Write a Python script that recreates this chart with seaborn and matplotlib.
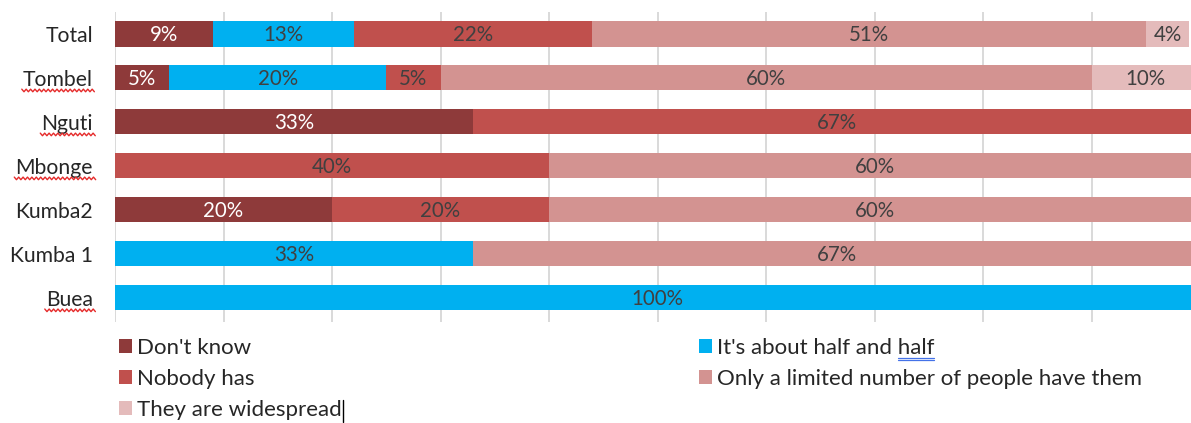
import numpy as np
import pandas as pd
import matplotlib
matplotlib.use("Agg")
import matplotlib.pyplot as plt
from matplotlib.lines import Line2D
from matplotlib.patches import Patch
import seaborn as sns

# Survey answers by site (percent of respondents)
sites = ["Total", "Tombel", "Nguti", "Mbonge", "Kumba2", "Kumba 1", "Buea"]
dont_know = [9, 5, 33, 0, 20, 0, 0]
half_and_half = [13, 20, 0, 0, 0, 33, 100]
nobody_has = [22, 5, 67, 40, 20, 0, 0]
limited_number = [51, 60, 0, 60, 60, 67, 0]
widespread = [4, 10, 0, 0, 0, 0, 0]

series_names = ["Don't know", "It's about half and half", "Nobody has",
                "Only a limited number of people have them", "They are widespread"]
series_values = [dont_know, half_and_half, nobody_has, limited_number, widespread]
series_colors = ["#8E3A3A", "#00B0F0", "#C0504D", "#D39391", "#E4BBBB"]
label_colors = ["white", "#404040", "#404040", "#404040", "#404040"]

sns.set_theme(style="white")
plt.rcParams["font.family"] = ["Lato", "DejaVu Sans"]

W, H, DPI = 1191, 423, 100
fig = plt.figure(figsize=(W / DPI, H / DPI), dpi=DPI)
ax = fig.add_axes([115 / W, 1 - 322 / H, 1 - 115 / W, 310 / H])

df = pd.DataFrame({"site": sites})
cum = np.zeros(len(sites))
cums = []
for vals in series_values:
    cum = cum + np.array(vals, dtype=float)
    cums.append(cum.copy())

# stacked bars: draw cumulative totals from the outermost segment inward
for i in range(len(series_values) - 1, -1, -1):
    df["cum"] = cums[i]
    sns.barplot(data=df, x="cum", y="site", order=sites, orient="y",
                color=series_colors[i], saturation=1, width=0.57,
                linewidth=0, ax=ax, zorder=2)

# value labels centred in each segment
for i, vals in enumerate(series_values):
    for j, v in enumerate(vals):
        if v > 0:
            xc = cums[i][j] - v / 2
            ax.text(xc, j + 0.03, f"{v}%", ha="center", va="center",
                    fontsize=14.8, color=label_colors[i], zorder=3)

ax.set_xticks(np.arange(0, 101, 10))
ax.set_xticklabels([])
# the 100% end of the scale sits just past the right edge of the figure
ax.set_xlim(0, 100 * (W - 115) / 1085)
ax.set_ylim(6.55, -0.5)
ax.xaxis.grid(True, color="#D9D9D9", linewidth=1.4, zorder=0)
ax.yaxis.grid(False)
ax.set_axisbelow(True)
for s in ax.spines.values():
    s.set_visible(False)
ax.set_xlabel("")
ax.set_ylabel("")
ax.tick_params(axis="y", length=0, pad=16, labelsize=15.2, labelcolor="#262626")
ax.tick_params(axis="x", length=0)

# legend in two columns below the plot
handles = [Patch(facecolor=c, edgecolor="none") for c in series_colors]
leg_kw = dict(frameon=False, loc="upper left", fontsize=16, borderpad=0,
              borderaxespad=0, handlelength=0.6, handleheight=0.6,
              handletextpad=0.2, labelspacing=0.5, labelcolor="#262626")
leg1 = fig.legend([handles[0], handles[2], handles[4]],
                  [series_names[0], series_names[2], series_names[4]],
                  bbox_to_anchor=(119 / W, 1 - 338 / H), **leg_kw)
leg2 = fig.legend([handles[1], handles[3]],
                  [series_names[1], series_names[3]],
                  bbox_to_anchor=(699 / W, 1 - 338 / H), **leg_kw)

fig.canvas.draw()
renderer = fig.canvas.get_renderer()
inv = fig.transFigure.inverted()


def add_line(xs, ys, **kw):
    pts = inv.transform(np.column_stack([xs, ys]))
    fig.add_artist(Line2D(pts[:, 0], pts[:, 1], transform=fig.transFigure, **kw))


# red wavy spell-check underlines under some site names
for lab in ax.get_yticklabels():
    if lab.get_text() in ("Tombel", "Nguti", "Mbonge", "Buea"):
        bb = lab.get_window_extent(renderer)
        yc = (bb.y0 + bb.y1) / 2 - 10.5
        xs = np.arange(bb.x0 - 1, bb.x1 + 3, 2.2)
        ys = yc + np.where(np.arange(len(xs)) % 2 == 0, 1.3, -1.3)
        add_line(xs, ys, color="#E52A2A", linewidth=1.0)

# blue double underline under the last word of one legend entry
txt_half = leg2.get_texts()[0]
bb = txt_half.get_window_extent(renderer)
full = txt_half.get_text()
probe = fig.text(0, 0, full[:full.rfind("half")], fontsize=16,
                 fontfamily=["Lato", "DejaVu Sans"])
pre_w = probe.get_window_extent(renderer).width
probe.remove()
x0 = bb.x0 + pre_w
x1 = bb.x1
ybase = (bb.y0 + bb.y1) / 2 - 10
for dy in (0, -2.2):
    add_line([x0, x1], [ybase + dy, ybase + dy], color="#4472E8", linewidth=0.9)

# text cursor after the last legend entry
bb = leg1.get_texts()[2].get_window_extent(renderer)
add_line([bb.x1 + 1.5, bb.x1 + 1.5], [bb.y0 - 2, bb.y1], color="black", linewidth=1.0)

fig.savefig("out.png", dpi=DPI)
